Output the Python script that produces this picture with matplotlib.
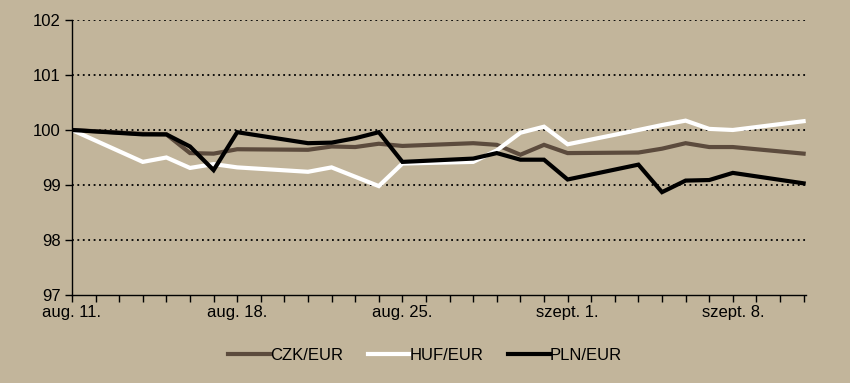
import matplotlib.pyplot as plt

plt.rcParams['font.family'] = ['Liberation Sans', 'DejaVu Sans']

# trading days, counted from aug. 11.
days = [0, 3, 4, 5, 6, 7, 10, 11, 12, 13, 14, 17, 18, 19, 20, 21, 24, 25, 26, 27, 28, 31]
czk = [100, 99.93, 99.92, 99.58, 99.57, 99.65, 99.64, 99.70, 99.69, 99.75, 99.71,
       99.76, 99.73, 99.55, 99.73, 99.58, 99.59, 99.66, 99.76, 99.69, 99.69, 99.57]
huf = [100, 99.42, 99.50, 99.31, 99.38, 99.32, 99.24, 99.32, 99.15, 98.98, 99.39,
       99.42, 99.63, 99.95, 100.06, 99.74, 100.0, 100.09, 100.17, 100.02, 100.0, 100.16]
pln = [100, 99.92, 99.92, 99.70, 99.27, 99.96, 99.76, 99.77, 99.85, 99.96, 99.42,
       99.48, 99.58, 99.46, 99.46, 99.10, 99.37, 98.87, 99.08, 99.09, 99.22, 99.03]

label_days = [0, 7, 14, 21, 28]
label_text = ['aug. 11.', 'aug. 18.', 'aug. 25.', 'szept. 1.', 'szept. 8.']

bg = '#c2b59b'
fig = plt.figure(figsize=(8.5, 3.83), dpi=100, facecolor=bg)
ax = fig.add_axes([0.0847, 0.2298, 0.8635, 0.7180])
ax.set_facecolor(bg)

ax.plot(days, czk, color='#5c4b3d', lw=3.0, label='CZK/EUR', solid_joinstyle='miter')
ax.plot(days, huf, color='white', lw=3.0, label='HUF/EUR', solid_joinstyle='miter')
ax.plot(days, pln, color='black', lw=3.0, label='PLN/EUR', solid_joinstyle='miter')

ax.set_xlim(0, 31.1)
ax.set_ylim(97, 102)
ax.set_yticks([97, 98, 99, 100, 101, 102])
ax.set_xticks(range(0, 32))
ax.set_xticklabels([label_text[label_days.index(d)] if d in label_days else '' for d in range(0, 32)])

for y in [98, 99, 100, 101, 102]:
    ax.axhline(y, color='black', lw=1.3, ls=(0, (1, 2)), zorder=0)

for s in ['top', 'right']:
    ax.spines[s].set_visible(False)
ax.spines['left'].set_linewidth(1.0)
ax.spines['bottom'].set_linewidth(1.0)
ax.tick_params(axis='both', direction='out', length=5, width=1.0, labelsize=12, colors='black')
ax.tick_params(axis='y', pad=3)
ax.tick_params(axis='x', pad=2)

fig.legend(loc='center', bbox_to_anchor=(0.5, 0.073), ncol=3, frameon=False,
           fontsize=12, handlelength=2.5, handletextpad=0.0, columnspacing=1.5)

fig.savefig('out.png', dpi=100, facecolor=bg)
